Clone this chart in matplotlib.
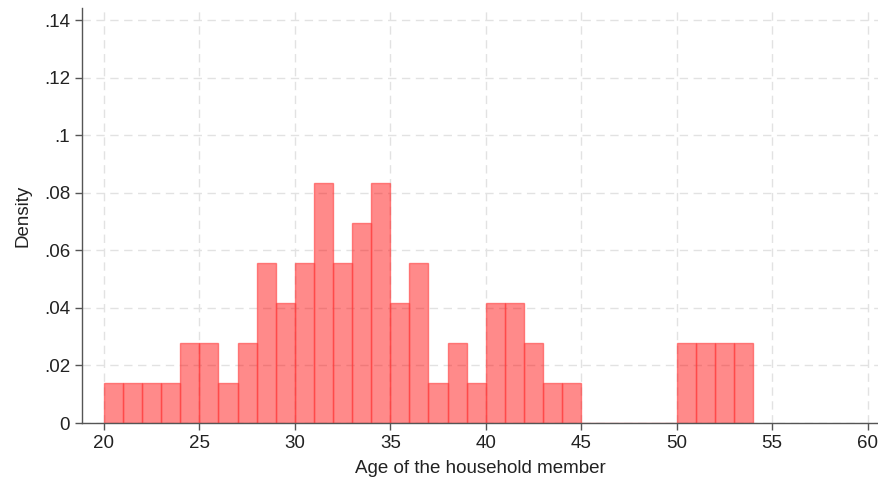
import numpy as np
import matplotlib.pyplot as plt

# histogram of ages, bin width 1, density scale (72 observations)
bin_left = list(range(20, 54))
counts = [1, 1, 1, 1, 2, 2, 1, 2, 4, 3,
          4, 6, 4, 5, 6, 3, 4, 1, 2, 1,
          3, 3, 2, 1, 1, 0, 0, 0, 0, 0,
          2, 2, 2, 2]
n_obs = sum(counts)
density = [c / n_obs for c in counts]

x_ticks = list(range(20, 61, 5))
y_ticks = [0, 0.02, 0.04, 0.06, 0.08, 0.10, 0.12, 0.14]
y_labels = ["0", ".02", ".04", ".06", ".08", ".1", ".12", ".14"]

plt.rcParams['font.family'] = ['Liberation Sans', 'DejaVu Sans']

fig = plt.figure(figsize=(8.79, 4.86), dpi=100)
ax = fig.add_axes([82 / 879, 1 - 423 / 486, (879 - 82) / 879, (423 - 8) / 486])

ax.bar(bin_left, density, width=1, align='edge',
       color=(1, 0, 0, 0.46), edgecolor=(1, 0.25, 0.25, 0.6), linewidth=1.0, zorder=3)

ax.set_xlim(18.85, 60.6)
ax.set_ylim(0, 0.1442)
ax.set_xticks(x_ticks)
ax.set_yticks(y_ticks)
ax.set_yticklabels(y_labels)

ax.grid(True, color='#e2e2e2', linestyle=(0, (6, 4)), linewidth=1.0, zorder=0)
ax.set_axisbelow(True)

for side in ['top', 'right']:
    ax.spines[side].set_visible(False)
for side in ['left', 'bottom']:
    ax.spines[side].set_color('#555555')
    ax.spines[side].set_linewidth(1.0)
    ax.spines[side].set_zorder(4)

ax.tick_params(axis='both', length=5, width=1, color='#555555', labelsize=13.5, labelcolor='#222222')
ax.set_xlabel("Age of the household member", fontsize=13.5, color='#222222', labelpad=6)
ax.set_ylabel("Density", fontsize=13.5, color='#222222', labelpad=9)

fig.savefig("out.png", dpi=100)
